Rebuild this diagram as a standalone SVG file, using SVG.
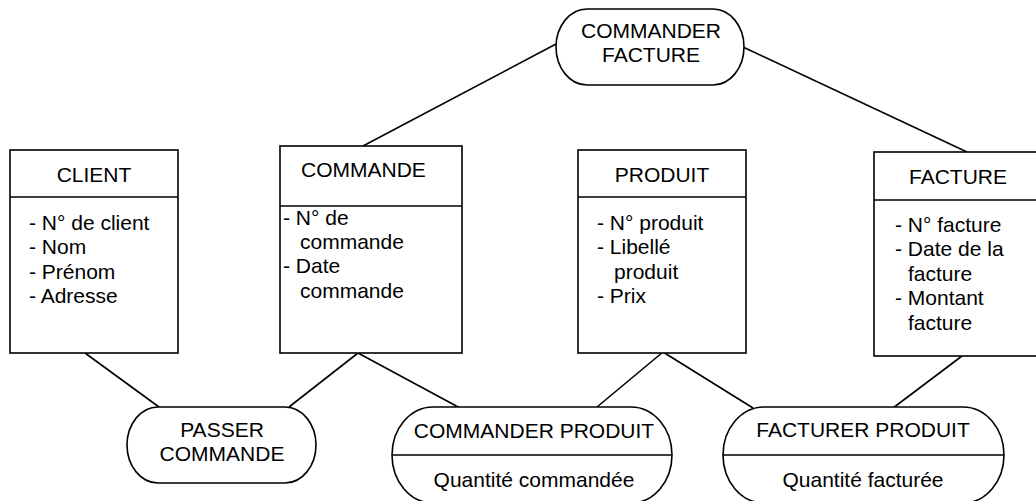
<svg xmlns="http://www.w3.org/2000/svg" width="1036" height="501" viewBox="0 0 1036 501">
<style>
text{font-family:"Liberation Sans",Arial,sans-serif;font-size:21px;fill:#000}
.c{text-anchor:middle}
.box{fill:#fff;stroke:#000;stroke-width:1.6}
.ln{stroke:#000;stroke-width:1.6;fill:none}
</style>
<rect width="1036" height="501" fill="#fff"/>
<g id="connectors" class="ln">
<line x1="85" y1="353" x2="159" y2="407"/>
<line x1="358" y1="353" x2="289" y2="407"/>
<line x1="358" y1="353" x2="460" y2="408"/>
<line x1="663" y1="352" x2="597" y2="407"/>
<line x1="663" y1="352" x2="753" y2="408"/>
<line x1="962" y1="356" x2="893" y2="408"/>
<line x1="556" y1="44" x2="363" y2="146"/>
<line x1="743" y1="47" x2="967" y2="152"/>
</g>
<g id="client">
<rect class="box" x="10" y="150" width="168" height="203"/>
<line class="ln" x1="10" y1="197" x2="178" y2="197"/>
<text class="c" x="94" y="182">CLIENT</text>
<text x="29" y="230">- N° de client</text>
<text x="29" y="254.4">- Nom</text>
<text x="29" y="278.8">- Prénom</text>
<text x="29" y="303.2">- Adresse</text>
</g>
<g id="commande">
<rect class="box" x="280" y="146" width="182" height="207"/>
<line class="ln" x1="280" y1="206" x2="462" y2="206"/>
<text x="301" y="177">COMMANDE</text>
<text x="283" y="224.5">- N° de</text>
<text x="300" y="248.9">commande</text>
<text x="283" y="273.3">- Date</text>
<text x="300" y="297.7">commande</text>
</g>
<g id="produit">
<rect class="box" x="578" y="150" width="168" height="203"/>
<line class="ln" x1="578" y1="197" x2="746" y2="197"/>
<text class="c" x="662" y="182">PRODUIT</text>
<text x="597" y="230">- N° produit</text>
<text x="597" y="254.4">- Libellé</text>
<text x="614" y="278.8">produit</text>
<text x="597" y="303.2">- Prix</text>
</g>
<g id="facture">
<rect class="box" x="874" y="152" width="168" height="204"/>
<line class="ln" x1="874" y1="200" x2="1042" y2="200"/>
<text class="c" x="958" y="184">FACTURE</text>
<text x="895" y="232">- N° facture</text>
<text x="895" y="256.4">- Date de la</text>
<text x="908" y="280.8">facture</text>
<text x="895" y="305.2">- Montant</text>
<text x="908" y="329.6">facture</text>
</g>
<g id="commander-facture">
<rect class="box" x="556" y="9" width="188" height="76" rx="31" ry="38"/>
<text class="c" x="651" y="38">COMMANDER</text>
<text class="c" x="651" y="62">FACTURE</text>
</g>
<g id="passer-commande">
<rect class="box" x="127" y="407" width="189" height="76" rx="31" ry="38"/>
<text class="c" x="222" y="437">PASSER</text>
<text class="c" x="222" y="461">COMMANDE</text>
</g>
<g id="commander-produit">
<rect class="box" x="392" y="407" width="280" height="96" rx="41" ry="48"/>
<line class="ln" x1="392" y1="455" x2="672" y2="455"/>
<text class="c" x="534" y="438">COMMANDER PRODUIT</text>
<text class="c" x="534" y="487">Quantité commandée</text>
</g>
<g id="facturer-produit">
<rect class="box" x="723" y="407" width="281" height="96" rx="41" ry="48"/>
<line class="ln" x1="723" y1="455" x2="1004" y2="455"/>
<text class="c" x="863" y="437">FACTURER PRODUIT</text>
<text class="c" x="863" y="487">Quantité facturée</text>
</g>
</svg>
